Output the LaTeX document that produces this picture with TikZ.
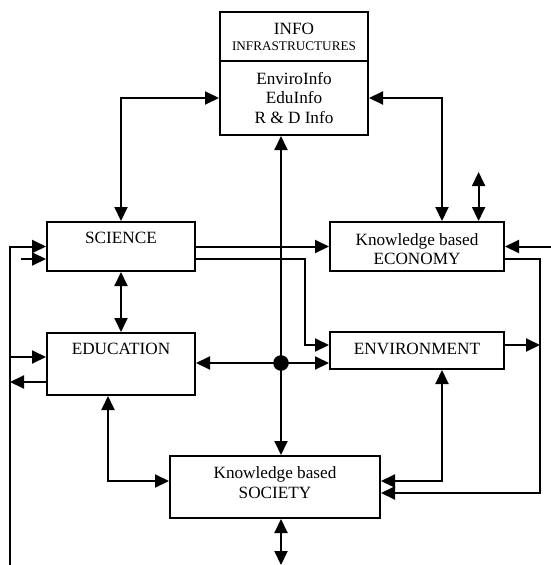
\documentclass[tikz,border=0pt]{standalone}
\usepackage{fontspec}
\setmainfont{Liberation Serif}
\usetikzlibrary{arrows.meta,calc}
\begin{document}
\begin{tikzpicture}[x=1pt,y=-1pt,
  box/.style 2 args={draw, line width=2pt, rectangle, inner sep=0pt, minimum width=#1, minimum height=#2},
  txt/.style={inner sep=0pt, align=center, font=\fontsize{17.2}{19.5}\selectfont},
  smalltxt/.style={inner sep=0pt, font=\fontsize{13.2}{15}\selectfont},
  conn/.style={line width=2pt},
  >={Triangle[length=14pt,width=13pt]}]
\useasboundingbox (0,0) rectangle (551,565);
% boxes
\node[box={148pt}{49pt}] (infotop) at (294,36.5) {};
\node[box={148pt}{74pt}] (infobot) at (294,98) {};
\node[box={148pt}{49pt}] (sci) at (121,246.5) {};
\node[box={174pt}{49pt}] (econ) at (417,246.5) {};
\node[box={148pt}{62pt}] (edu) at (121,364) {};
\node[box={174pt}{37pt}] (env) at (417,350.5) {};
\node[box={210pt}{62pt}] (soc) at (275,487) {};
% texts
\node[txt, anchor=base] (tinfo) at (294,34.7) {INFO};
\node[smalltxt, anchor=base] (tinfra) at (294,50.4) {INFRASTRUCTURES};
\node[txt, anchor=north] (tinfob) at (294,72) {EnviroInfo\\EduInfo\\R \& D Info};
\node[txt, anchor=base] (tsci) at (121,243.7) {SCIENCE};
\node[txt, anchor=north] (tecon) at (417,233) {Knowledge based\\ECONOMY};
\node[txt, anchor=base] (tedu) at (121,354.7) {EDUCATION};
\node[txt, anchor=base] (tenv) at (417,354.7) {ENVIRONMENT};
\node[txt, anchor=north] (tsoc) at (275,466.7) {Knowledge based\\SOCIETY};
% coordinates
\coordinate (dot) at (281,363);
\coordinate (lb) at (10,565);
\coordinate (rb) at (540,493);
\coordinate (eup) at (478.6,172);
\coordinate (rin) at (551,246.5);
\coordinate (sin) at (21,259);
\coordinate (sbot) at (281,565);
\coordinate (ein) at ($(edu.west)+(0,-7)$);
\coordinate (eout) at ($(edu.west)+(0,18)$);
\coordinate (eco) at ($(econ.east)+(0,12)$);
\coordinate (soin) at ($(soc.east)+(0,6)$);
\coordinate (envo) at ($(env.east)+(0,-5.5)$);
\coordinate (eds) at ($(edu.south)+(-13,0)$);
\coordinate (sow) at ($(soc.west)+(0,-6)$);
\coordinate (ens) at ($(env.south)+(25,0)$);
\coordinate (soe) at ($(soc.east)+(0,-6)$);
\coordinate (sce) at ($(sci.east)+(0,12.5)$);
\coordinate (bend) at ($(env.west)+(-24,-5.5)$);
\coordinate (envw) at ($(env.west)+(0,-5.5)$);
\coordinate (ecn) at ($(econ.north)+(25,0)$);
% connectors
\draw[conn,<->] (sci.north) |- (infobot.west);
\draw[conn,<->] (infobot.east) -| (ecn);
\draw[conn,<->] (eup) -- (eup |- econ.north);
\draw[conn,->] (dot) -- (dot |- infobot.south);
\draw[conn,->] (dot) -- (dot |- soc.north);
\draw[conn,->] (dot) -- (dot -| edu.east);
\draw[conn,->] (dot) -- (dot -| env.west);
\fill (dot) circle (7.8pt);
\draw[conn,->] (sci.east) -- (econ.west);
\draw[conn,->] (sce) -| (bend) -- (envw);
\draw[conn,->] (lb) |- (sci.west);
\draw[conn,->] (sin) -- (sin -| sci.west);
\draw[conn,->] (ein -| lb) -- (ein);
\draw[conn,->] (eout) -- (eout -| lb);
\draw[conn,->] (rin) -- (econ.east);
\draw[conn,->] (eco) -| (rb |- soin) -- (soin);
\draw[conn,->] (envo) -- (envo -| rb);
\draw[conn,<->] (eds) |- (sow);
\draw[conn,<->] (ens) |- (soe);
\draw[conn,<->] (dot |- soc.south) -- (sbot);
\draw[conn,<->] (sci.south) -- (edu.north);
\end{tikzpicture}
\end{document}
